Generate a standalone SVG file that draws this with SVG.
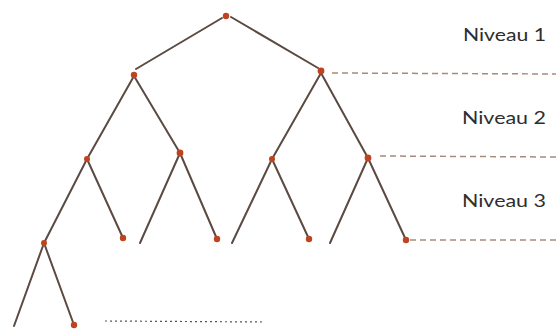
<svg xmlns="http://www.w3.org/2000/svg" width="556" height="332" viewBox="0 0 556 332">
<style>
.br{stroke:#5b4a42;stroke-width:2;stroke-linecap:round;fill:none}
.dash{stroke:#a88a7c;stroke-width:1.5;stroke-dasharray:6 4;fill:none}
.dot{stroke:#555;stroke-width:1.2;stroke-dasharray:2 3;fill:none}
.nd{fill:#c0431f}
.lbl{font-family:"Lato","Liberation Sans",sans-serif;font-size:18px;fill:#2e2e2e}
</style>
<rect width="556" height="332" fill="#ffffff"/>
<g id="connectors">
<line class="br" x1="222" y1="18" x2="136" y2="69"/>
<line class="br" x1="231" y1="17" x2="318" y2="68"/>
<line class="br" x1="134" y1="76" x2="87" y2="159"/>
<line class="br" x1="87" y1="159" x2="44" y2="243"/>
<line class="br" x1="134" y1="76" x2="180" y2="153"/>
<line class="br" x1="180" y1="153" x2="217" y2="239"/>
<line class="br" x1="180" y1="153" x2="140" y2="243"/>
<line class="br" x1="87" y1="159" x2="123" y2="238"/>
<line class="br" x1="44" y1="243" x2="14" y2="326"/>
<line class="br" x1="44" y1="243" x2="74" y2="325"/>
<line class="br" x1="321" y1="73" x2="272" y2="159"/>
<line class="br" x1="272" y1="159" x2="232" y2="243"/>
<line class="br" x1="321" y1="73" x2="368" y2="158"/>
<line class="br" x1="368" y1="158" x2="406" y2="240"/>
<line class="br" x1="272" y1="159" x2="309" y2="239"/>
<line class="br" x1="368" y1="158" x2="330" y2="243"/>
<line class="dash" x1="332" y1="73" x2="556" y2="74"/>
<line class="dash" x1="380" y1="156" x2="556" y2="157"/>
<line class="dash" x1="410" y1="240" x2="556" y2="240"/>
<line class="dot" x1="105" y1="321" x2="265" y2="322"/>
</g>
<g id="root"><circle class="nd" cx="226" cy="16" r="3.2"/></g>
<g id="n-l1"><circle class="nd" cx="134" cy="75" r="3.2"/></g>
<g id="n-r1"><circle class="nd" cx="321" cy="71" r="3.4"/></g>
<g id="n-l2a"><circle class="nd" cx="87" cy="159" r="3"/></g>
<g id="n-l2b"><circle class="nd" cx="180" cy="153" r="3.4"/></g>
<g id="n-l2c"><circle class="nd" cx="272" cy="159" r="3"/></g>
<g id="n-l2d"><circle class="nd" cx="368" cy="158" r="3.4"/></g>
<g id="n-l3a"><circle class="nd" cx="123" cy="238" r="3.2"/></g>
<g id="n-l3b"><circle class="nd" cx="217" cy="239" r="3.2"/></g>
<g id="n-l3c"><circle class="nd" cx="309" cy="239" r="3.2"/></g>
<g id="n-l3d"><circle class="nd" cx="406" cy="240" r="3.2"/></g>
<g id="n-l3e"><circle class="nd" cx="44" cy="243" r="3"/></g>
<g id="n-l4"><circle class="nd" cx="74" cy="325" r="3.2"/></g>
<g id="labels">
<text class="lbl" x="463" y="41" textLength="83" lengthAdjust="spacingAndGlyphs">Niveau 1</text>
<text class="lbl" x="462" y="124" textLength="84" lengthAdjust="spacingAndGlyphs">Niveau 2</text>
<text class="lbl" x="462" y="207" textLength="84" lengthAdjust="spacingAndGlyphs">Niveau 3</text>
</g>
</svg>
